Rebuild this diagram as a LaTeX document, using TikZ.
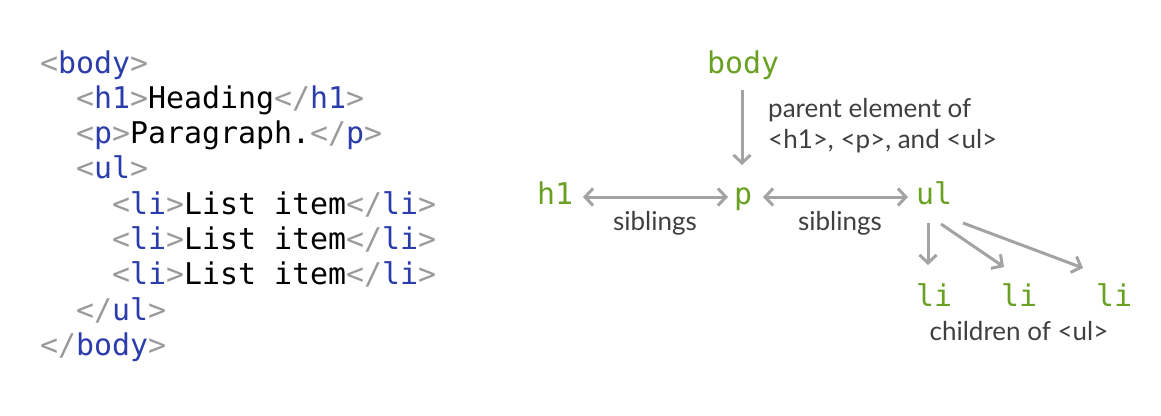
\documentclass[tikz,border=0pt]{standalone}
\usepackage{fontspec}
\setmainfont{Lato}
\newfontfamily\codefont{DejaVu Sans Mono}
\usetikzlibrary{arrows.meta,calc}
\definecolor{pgray}{HTML}{9A9A9A}
\definecolor{tagblue}{HTML}{2B3DAA}
\definecolor{tgreen}{HTML}{6AA123}
\definecolor{agray}{HTML}{A3A3A3}
\definecolor{lgray}{HTML}{3F3F3F}
\newcommand\Lb{{\color{pgray}<}}
\newcommand\Rb{{\color{pgray}>}}
\newcommand\Sl{{\color{pgray}/}}
\newcommand\Tg[1]{{\color{tagblue}#1}}
\tikzset{
  codeline/.style={anchor=base west, inner sep=0pt, font=\codefont\fontsize{29.9}{35}\selectfont},
  elem/.style={anchor=base, inner sep=0pt, text=tgreen, font=\codefont\fontsize{29.9}{35}\selectfont},
  lab/.style={inner sep=0pt, text=lgray, font=\fontsize{26}{31}\selectfont},
  arr/.style={draw=agray, line width=3pt, -{Straight Barb[length=8pt, width=17pt, line width=3pt]}},
  darr/.style={draw=agray, line width=3pt, {Straight Barb[length=8pt, width=17pt, line width=3pt]}-{Straight Barb[length=8pt, width=17pt, line width=3pt]}}
}
\begin{document}
\begin{tikzpicture}[x=1pt, y=-1pt]
\useasboundingbox (0,0) rectangle (1161,415);
% code listing
\node[codeline] (c1) at (40,73)    {\Lb\Tg{body}\Rb};
\node[codeline] (c2) at (76,108.3) {\Lb\Tg{h1}\Rb Heading\Lb\Sl\Tg{h1}\Rb};
\node[codeline] (c3) at (76,143.6) {\Lb\Tg{p}\Rb Paragraph.\Lb\Sl\Tg{p}\Rb};
\node[codeline] (c4) at (76,178.9) {\Lb\Tg{ul}\Rb};
\node[codeline] (c5) at (112,214.2) {\Lb\Tg{li}\Rb List item\Lb\Sl\Tg{li}\Rb};
\node[codeline] (c6) at (112,249.5) {\Lb\Tg{li}\Rb List item\Lb\Sl\Tg{li}\Rb};
\node[codeline] (c7) at (112,284.8) {\Lb\Tg{li}\Rb List item\Lb\Sl\Tg{li}\Rb};
\node[codeline] (c8) at (76,320.1) {\Lb\Sl\Tg{ul}\Rb};
\node[codeline] (c9) at (40,355.4) {\Lb\Sl\Tg{body}\Rb};
% tree
\node[elem] (body) at (743,73) {body};
\node[elem] (h1) at (555,204) {h1};
\node[elem] (p) at (743,204) {p};
\node[elem] (ul) at (934,204) {ul};
\node[elem] (li1) at (934,306) {li};
\node[elem] (li2) at (1019,306) {li};
\node[elem] (li3) at (1114,306) {li};
% labels
\node[lab, anchor=base west, align=left] (parent) at (768,148) {parent element of\\\textless h1\textgreater, \textless p\textgreater, and \textless ul\textgreater};
\node[lab, anchor=base] (sib1) at (655,230) {siblings};
\node[lab, anchor=base] (sib2) at (840,230) {siblings};
\node[lab, anchor=base] (chil) at (1019,340) {children of \textless ul\textgreater};
% connectors
\draw[arr] ($(body.base)+(-1,17)$) -- ($(p.base)+(-1,-39)$);
\draw[darr] ($(h1.base)+(28,-7)$) -- ($(p.base)+(-15,-7)$);
\draw[darr] ($(p.base)+(20,-7)$) -- ($(ul.base)+(-26,-7)$);
\draw[arr] ($(ul.base)+(-6,19)$) -- ($(li1.base)+(-6,-41)$);
\draw[arr] ($(ul.base)+(7,20)$) -- ($(li2.base)+(-15,-39)$);
\draw[arr] ($(ul.base)+(29,19)$) -- ($(li3.base)+(-31,-38)$);
\end{tikzpicture}
\end{document}
